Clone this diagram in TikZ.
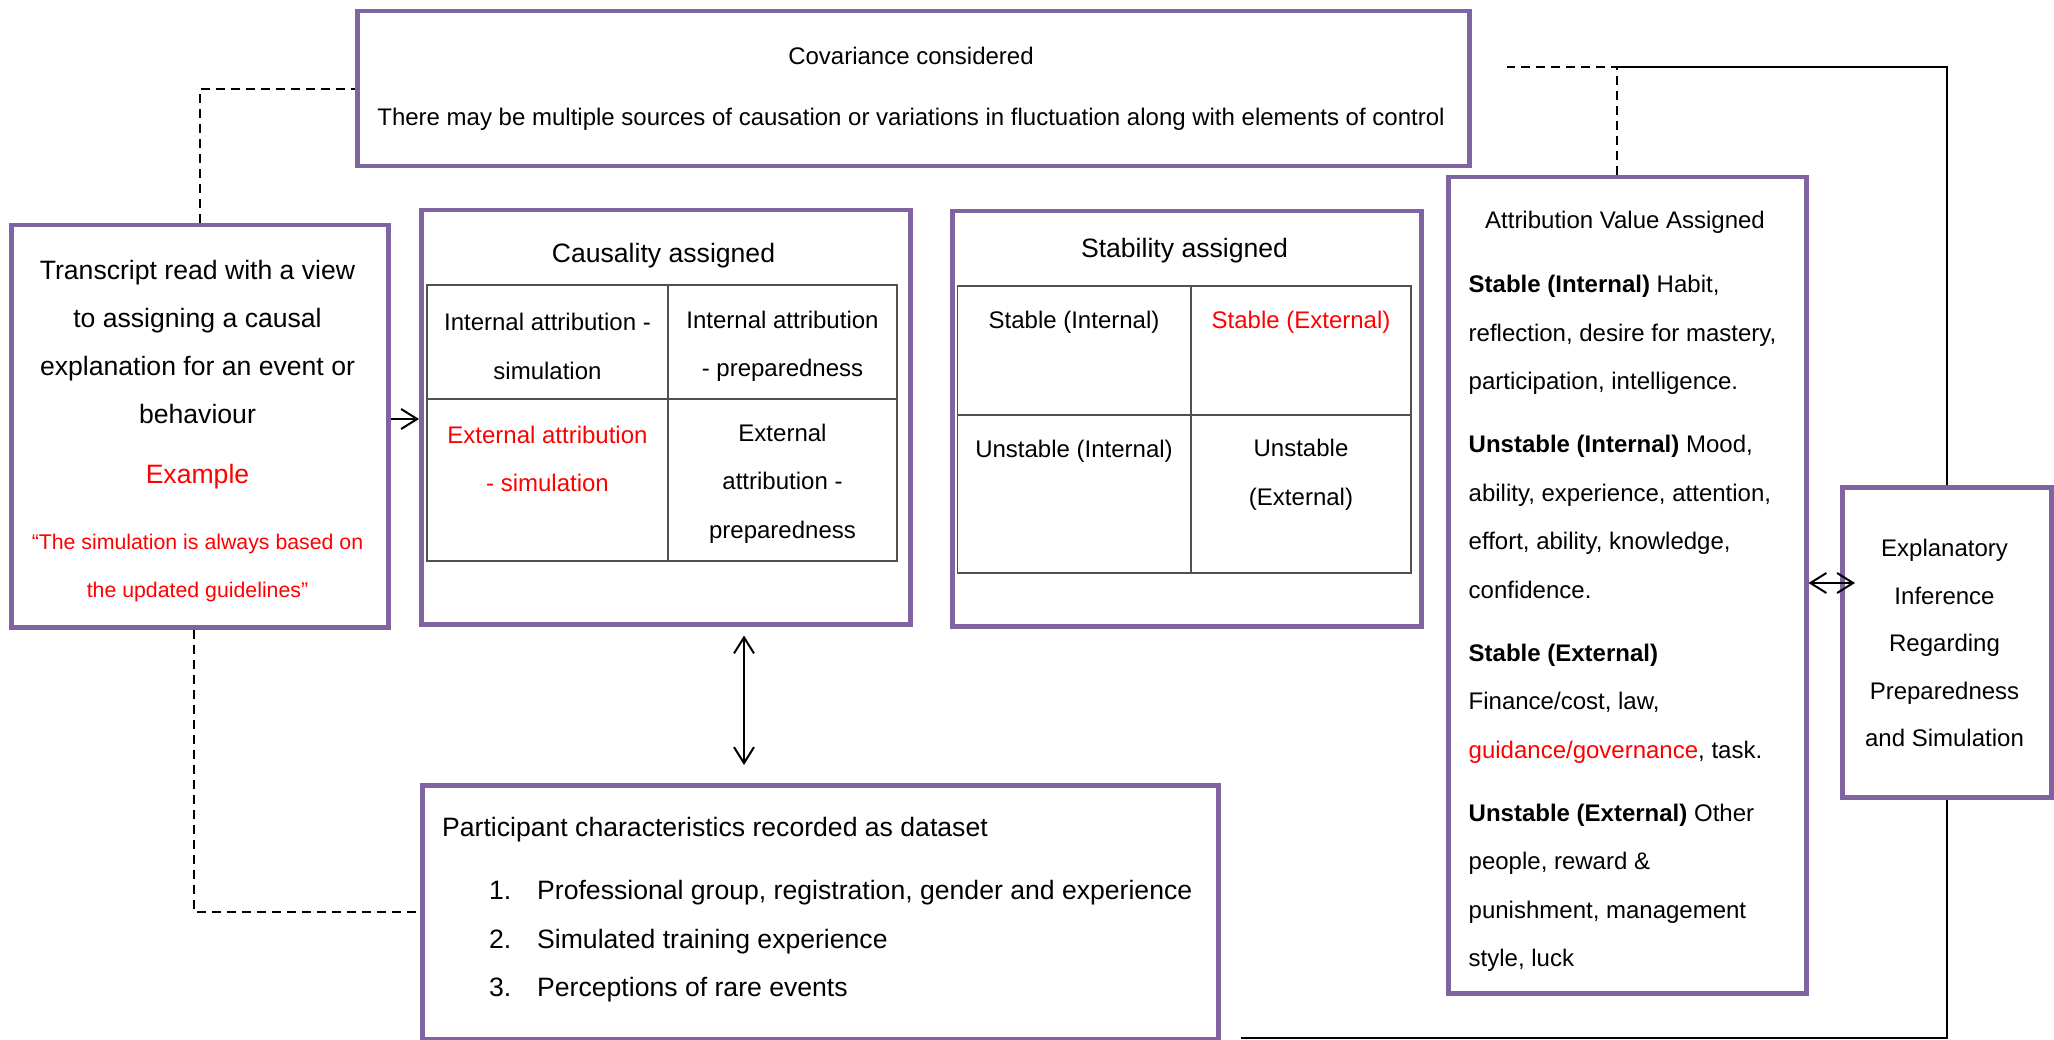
\documentclass[tikz,border=0pt]{standalone}
\usepackage{fontspec}
\setmainfont{Liberation Sans}
\usetikzlibrary{arrows.meta}
\definecolor{boxpurple}{HTML}{8064A2}
\definecolor{hotred}{HTML}{FF0000}
\definecolor{gridgray}{HTML}{505050}
\newcommand\fsz[2]{\fontsize{#1pt}{#2pt}\selectfont}

\begin{document}
\begin{tikzpicture}[x=1pt,y=-1pt,
  pbox/.style={draw=boxpurple, line width=4.5pt, inner sep=0pt, anchor=north west},
  bigtxt/.style={font=\fsz{26.6}{48}, align=center, inner sep=0pt},
  midtxt/.style={font=\fsz{24}{48.5}, align=center, inner sep=0pt},
  cellline/.style={draw=gridgray, line width=1.5pt},
  link/.style={line width=2pt, draw=black},
  dashlink/.style={link, dash pattern=on 9pt off 6pt},
  onewaytip/.style={arrows={-Straight Barb[length=16pt,width=20pt]}},
  twoway/.style={arrows={Straight Barb[length=16pt,width=20pt]-Straight Barb[length=16pt,width=20pt]}}]
\useasboundingbox (0,0) rectangle (2054,1040);

% --- boxes ---
\node[pbox, minimum width=1112pt, minimum height=155pt] (cov) at (355,9) {};
\node[pbox, minimum width=377pt, minimum height=402pt] (trans) at (9,223) {};
\node[pbox, minimum width=489pt, minimum height=414pt] (caus) at (419,208) {};
\node[pbox, minimum width=469pt, minimum height=415pt] (stab) at (950,209) {};
\node[pbox, minimum width=358pt, minimum height=816pt] (attr) at (1446,175) {};
\node[pbox, minimum width=209pt, minimum height=310pt] (expl) at (1840,485) {};
\node[pbox, minimum width=796pt, minimum height=254pt] (part) at (420,783) {};

% --- covariance ---
\node[midtxt] (covtitle) at (911,56) {Covariance considered};
\node[midtxt] (covbody) at (911,119) {There may be multiple sources of causation or variations in fluctuation along with elements of control};

% --- transcript ---
\node[bigtxt] (transtxt) at (197.5,341.5) {Transcript read with a view\\to assigning a causal\\explanation for an event or\\behaviour};
\node[bigtxt, text=hotred] (example) at (197.5,477) {Example};
\node[font=\fsz{21.3}{48}, align=center, inner sep=0pt, text=hotred] (quote) at (197.5,568) {“The simulation is always based on\\the updated guidelines”};

% --- causality grid ---
\node[bigtxt] (caustitle) at (663.5,256) {Causality assigned};
\draw[cellline] (427,285) rectangle (897,561);
\draw[cellline] (427,399) -- (897,399);
\draw[cellline] (668,285) -- (668,561);
\node[midtxt] (causA) at (547.5,346.5) {Internal attribution -\\simulation};
\node[midtxt] (causB) at (782.5,346.5) {Internal attribution\\- preparedness};
\node[midtxt, text=hotred] (causC) at (547.5,459) {External attribution\\- simulation};
\node[midtxt] (causD) at (782.5,483.5) {External\\attribution -\\preparedness};

% --- stability grid ---
\node[bigtxt] (stabtitle) at (1184.5,251) {Stability assigned};
\draw[cellline] (957.5,286) rectangle (1411,573);
\draw[cellline] (957.5,415) -- (1411,415);
\draw[cellline] (1191,286) -- (1191,573);
\node[midtxt] (stabA) at (1074,322) {Stable (Internal)};
\node[midtxt, text=hotred] (stabB) at (1301,322) {Stable (External)};
\node[midtxt] (stabC) at (1074,451) {Unstable (Internal)};
\node[midtxt] (stabD) at (1301,475) {Unstable\\(External)};

% --- attribution values ---
\node[midtxt] (attrtitle) at (1625,222) {Attribution Value Assigned};
\node[midtxt, align=left, anchor=west] (attrbody) at (1468.5,623.5) {%
\textbf{Stable (Internal)} Habit,\\
reflection, desire for mastery,\\
participation, intelligence.\\[14.5pt]
\textbf{Unstable (Internal)} Mood,\\
ability, experience, attention,\\
effort, ability, knowledge,\\
confidence.\\[14.5pt]
\textbf{Stable (External)}\\
Finance/cost, law,\\
\textcolor{hotred}{guidance/governance}, task.\\[14.5pt]
\textbf{Unstable (External)} Other\\
people, reward \&\\
punishment, management\\
style, luck};

% --- explanatory inference ---
\node[midtxt, font=\fsz{24}{47.5}] (expltxt) at (1944.5,643) {Explanatory\\Inference\\Regarding\\Preparedness\\and Simulation};

% --- participant characteristics ---
\node[bigtxt, anchor=west] (parttitle) at (442,830) {Participant characteristics recorded as dataset};
\node[font=\fsz{26.6}{48.5}, align=left, inner sep=0pt, anchor=west] (partlist) at (489,941.5) {%
\makebox[48pt][l]{1.}Professional group, registration, gender and experience\\
\makebox[48pt][l]{2.}Simulated training experience\\
\makebox[48pt][l]{3.}Perceptions of rare events};

% --- connectors ---
\coordinate (rowA) at (0,419);
\coordinate (rowB) at (0,583);
\coordinate (colA) at (744,0);
\coordinate (topline) at (0,67);
\coordinate (lowline) at (0,912);
\coordinate (floorend) at (1241,1038);
\coordinate (loose) at (1507,67);

\draw[link, onewaytip] (trans.east |- rowA) -- (caus.west |- rowA);
\draw[link, twoway, shorten <=9pt, shorten >=18pt] (caus.south -| colA) -- (part.north -| colA);
\draw[link, twoway, shorten >=-15pt] (attr.east |- rowB) -- (expl.west |- rowB);

\draw[dashlink] (trans.north) -- (trans.north |- cov.west) -- (cov.west);
\coordinate (tdrop) at ([xshift=-5.5pt]trans.south);
\draw[dashlink] (tdrop) -- (tdrop |- lowline) -- (part.west |- lowline);

\coordinate (attrtop) at ([xshift=-10pt]attr.north);
\coordinate (fork) at (attrtop |- topline);
\draw[dashlink] (attrtop) -- (fork) -- (loose);
\draw[link] (fork) -- (expl.north |- topline) -- (expl.north);
\draw[link] (expl.south) -- (expl.south |- floorend) -- (floorend);
\end{tikzpicture}
\end{document}
